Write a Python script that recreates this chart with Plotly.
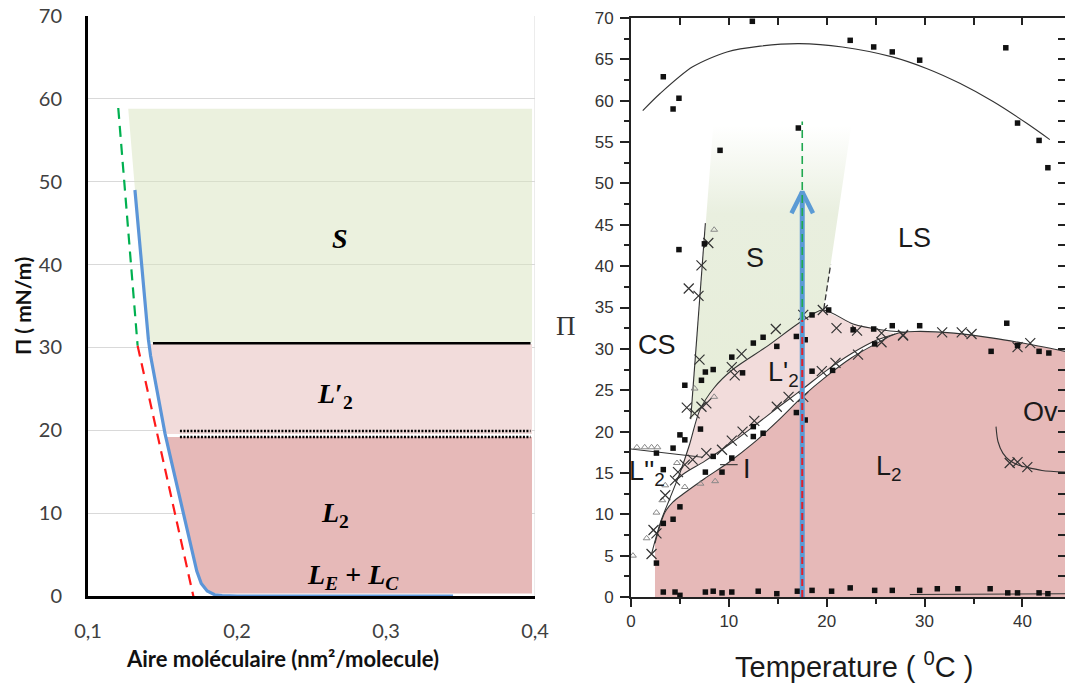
import numpy as np
import plotly.graph_objects as go

# ---------------- Left panel: isotherm ----------------
iso_area = [0.1315, 0.134, 0.1365, 0.1385, 0.1405, 0.142, 0.146, 0.150, 0.1517, 0.155, 0.160,
            0.1638, 0.168, 0.171, 0.173, 0.176, 0.180, 0.185, 0.19, 0.2, 0.25, 0.30, 0.345]
iso_pi = [49, 44, 38, 34, 31, 29, 25, 21, 19.6, 17, 13, 10, 7, 4.5, 3.0, 1.5, 0.6, 0.15, 0.05, 0, 0, 0, 0]

green_fit_area = [0.1203, 0.1333]
green_fit_pi = [58.9, 30.2]
red_fit_area = [0.1333, 0.1718]
red_fit_pi = [30.2, -0.9]

left_x_ticks = [0.1, 0.2, 0.3, 0.4]
left_x_ticktext = ["0,1", "0,2", "0,3", "0,4"]

# region limits (Π) and right edge of the shaded phases
zone_S = [30.6, 58.8]
zone_L2p = [19.55, 30.4]
zone_L2 = [0.3, 19.2]
zone_right = 0.398
zone_S_topleft = 0.127
line_S_pi = 30.5
line_S_x = [0.1436, 0.397]
dotted_pi = [19.9, 19.2]
dotted_x = [0.1617, 0.397]

left_labels = ["<b><i>S</i></b>", "<b><i>L</i>′<sub>2</sub></b>", "<b><i>L</i><sub>2</sub></b>",
               "<b><i>L</i><sub><i>E</i></sub> + <i>L</i><sub><i>C</i></sub></b>"]
left_label_x = [0.269, 0.266, 0.266, 0.278]
left_label_pi = [43.1, 24.2, 9.8, 2.3]

# ---------------- Right panel: phase diagram ----------------
sq_T = [3.3, 4.3, 4.9, 7.4, 12.4, 17.1, 9.1, 4.9, 7.5, 22.4, 24.8, 26.7, 29.5, 38.3, 39.5, 41.7, 42.6,
        38.4, 18.5, 20.2, 22.7, 24.8, 26.7, 29.5, 13.5, 16.9, 17.8, 14.9, 12.5, 11.4, 10.3, 8.4, 7.6,
        7.2, 5.5, 7.1, 5.0, 5.5, 4.3, 2.6, 3.3, 7.6, 8.4, 9.3, 10.3, 12.5, 13.5, 12.5, 5.0, 4.3, 3.3,
        2.6, 16.9, 17.8, 18.5, 20.6, 24.9, 36.8, 39.5, 41.7, 42.7]
sq_P = [62.9, 59.0, 60.3, 70.1, 69.6, 56.7, 54.0, 42.0, 42.7, 67.3, 66.5, 65.9, 64.9, 66.4, 57.3, 55.2, 51.9,
        33.1, 34.1, 34.7, 32.3, 32.4, 32.8, 32.8, 31.4, 31.5, 31.1, 30.3, 30.7, 27.1, 29.0, 27.5, 27.2,
        26.2, 25.6, 20.3, 19.6, 19.0, 18.0, 17.4, 15.4, 15.1, 17.0, 15.1, 16.8, 19.4, 19.8, 20.6, 10.9, 9.4, 8.9,
        4.1, 22.3, 21.4, 27.3, 27.4, 30.6, 29.7, 30.4, 29.7, 29.5]
base_T = [3.3, 4.5, 5.0, 7.6, 8.4, 9.3, 10.3, 13.0, 14.9, 17.0, 18.5, 20.5, 22.4, 24.9, 26.7, 29.5,
          31.3, 33.4, 36.7, 38.5, 39.5, 41.7, 42.6]
base_P = [0.6, 0.6, 0.2, 0.6, 0.7, 0.5, 0.6, 0.7, 0.4, 0.7, 0.8, 0.7, 1.1, 0.8, 0.8, 0.8,
          1.0, 1.0, 1.0, 0.5, 0.5, 0.5, 0.4]
x_T = [7.9, 7.2, 5.9, 6.9, 14.8, 17.6, 19.6, 21.0, 23.1, 25.6, 27.8, 31.8, 33.8, 34.8,
       7.0, 11.3, 10.3, 10.6, 5.7, 6.5, 7.2, 7.7, 19.5, 20.9, 23.2, 25.6, 27.8, 16.1, 14.9, 12.6,
       11.4, 10.3, 9.3, 7.7, 6.3, 5.5, 4.8, 4.5, 3.5, 2.3, 2.6, 2.1, 38.7, 39.5, 40.5, 39.5, 40.8, 17.6]
x_P = [42.8, 40.1, 37.3, 36.4, 32.4, 34.1, 34.7, 32.5, 32.2, 31.9, 31.7, 32.0, 32.0, 31.8,
       28.7, 29.4, 27.8, 26.8, 22.9, 22.2, 23.0, 23.4, 27.3, 28.3, 29.3, 30.8, 31.6, 24.2, 23.0, 21.3,
       20.0, 18.9, 17.8, 17.4, 16.6, 16.0, 15.1, 14.1, 12.3, 8.1, 7.7, 5.2, 16.2, 16.3, 15.7, 30.2, 30.7, 24.2]
tri_T = [0.6, 1.4, 2.1, 2.7, 0.2, 1.6, 2.6, 3.2, 3.5, 4.7, 5.5, 7.1, 8.6, 6.5, 8.5, 8.5]
tri_P = [18.1, 18.1, 18.1, 18.1, 5.0, 7.1, 10.2, 11.7, 13.5, 16.2, 13.3, 13.7, 14.0, 25.2, 24.2, 44.4]

dome_T = [1.2, 3.0, 6.3, 9.8, 13.2, 17.2, 21.6, 26.7, 30.2, 33.6, 37.0, 40.4, 42.8]
dome_P = [58.8, 60.9, 64.1, 65.9, 66.6, 66.9, 66.5, 65.3, 63.9, 62.1, 59.9, 57.3, 55.3]
upper_T = [2.1, 3.0, 4.0, 5.0, 6.0, 7.0, 8.5, 10.4, 13.9, 17.4, 19.6, 22.7, 25.5, 28.0]
upper_P = [5.2, 9.0, 12.0, 15.0, 18.5, 22.5, 25.3, 27.5, 30.3, 33.3, 34.7, 33.0, 32.3, 32.0]
l2top_T = [2.45, 3.0, 3.5, 4.3, 5.5, 7.5, 10, 12.5, 15, 17.5, 20, 22.5, 25, 27, 29, 33, 37, 40, 44.35]
l2top_P = [6.5, 8.8, 10.3, 11.5, 12.6, 14.3, 16.3, 18.6, 21.3, 24.2, 26.7, 28.9, 30.6, 31.8, 32.1, 31.9, 31.3, 30.7, 29.7]
ibnd_T = [4.5, 5.5, 7.5, 10, 12.5, 15, 17.5, 20, 22.5, 25, 27]
ibnd_P = [14.0, 15.0, 16.4, 18.4, 20.6, 22.9, 25.1, 27.4, 29.4, 31.0, 31.8]
s_edge_T = [6.1, 8.4, 22.5, 20.0]
s_edge_P = [21.5, 56.9, 56.9, 37.0]
cs_T = [6.1, 7.6]
cs_P = [21.5, 45.2]
sls_T = [19.7, 20.4]
sls_P = [34.8, 40.2]
l2pp_T = [0.0, 7.3]
l2pp_P = [17.9, 16.9]
ip_T = [9.1, 10.9]
ip_P = [16.0, 16.0]
ov_T = [37.3, 37.5, 38.0, 38.7, 39.5, 40.4, 42.0, 44.35]
ov_P = [20.6, 18.8, 17.4, 16.5, 16.0, 15.7, 15.3, 15.1]
basefit_T = [28.5, 44.35]
basefit_P = [0.3, 0.4]

arrow_T = 17.5
arrow_top = 49.0
red_top = 33.5
green_top = 57.5
chev_T = [16.4, 17.5, 18.6]
chev_P = [46.4, 49.0, 46.4]

right_labels = ["CS", "S", "LS", "L'<sub>2</sub>", "L''<sub>2</sub>", "I", "L<sub>2</sub>", "Ov"]
right_label_T = [2.7, 12.7, 29.0, 15.6, 1.6, 11.9, 26.4, 41.8]
right_label_P = [30.5, 41.0, 43.4, 27.0, 15.0, 15.5, 15.6, 22.4]

T_range = [0, 44.35]

LPINK = "#f2dcdb"
DPINK = "#e6b9b8"
BLUE = "#5b95d8"

fig = go.Figure()
L = dict(xaxis="x", yaxis="y", showlegend=False, hoverinfo="skip")
R = dict(xaxis="x2", yaxis="y2", showlegend=False, hoverinfo="skip")

# ---- left regions built from the isotherm
ia = np.array(iso_area)
ip = np.array(iso_pi)
steep = ip > 0.01
def area_at(p):
    return float(np.interp(p, ip[steep][::-1], ia[steep][::-1]))

def band(lo, hi):
    pts = [(a, p) for a, p in zip(iso_area, iso_pi) if lo < p < hi]
    xs = [area_at(hi)] + [a for a, _ in pts] + [area_at(lo), zone_right, zone_right]
    ys = [hi] + [p for _, p in pts] + [lo, lo, hi]
    return xs, ys

gx, gy = band(zone_S[0], iso_pi[0])
gx = [zone_S_topleft] + gx[:-1] + [zone_right]
gy = [zone_S[1]] + gy[:-1] + [zone_S[1]]
fig.add_trace(go.Scatter(x=gx, y=gy, fill="toself", fillcolor="rgba(215,227,189,0.5)",
                         line=dict(width=0), mode="lines", **L))
px_, py_ = band(*zone_L2p)
fig.add_trace(go.Scatter(x=px_, y=py_, fill="toself", fillcolor=LPINK, line=dict(width=0), mode="lines", **L))
px_, py_ = band(*zone_L2)
fig.add_trace(go.Scatter(x=px_, y=py_, fill="toself", fillcolor=DPINK, line=dict(width=0), mode="lines", **L))

# right frame line of left chart
fig.add_trace(go.Scatter(x=[0.4, 0.4], y=[0, 70], mode="lines", line=dict(color="#d9d9d9", width=1), **L))

fig.add_trace(go.Scatter(x=line_S_x, y=[line_S_pi] * 2, mode="lines", line=dict(color="black", width=2.5), **L))
for dp in dotted_pi:
    fig.add_trace(go.Scatter(x=dotted_x, y=[dp] * 2, mode="lines",
                             line=dict(color="black", width=2.5, dash="2px,1.5px"), **L))

fig.add_trace(go.Scatter(x=green_fit_area, y=green_fit_pi, mode="lines",
                         line=dict(color="#00b050", width=2.2, dash="11px,7px"), **L))
fig.add_trace(go.Scatter(x=red_fit_area, y=red_fit_pi, mode="lines",
                         line=dict(color="#ff1a1a", width=2.2, dash="11px,7px"), **L))
fig.add_trace(go.Scatter(x=red_fit_area[1:], y=red_fit_pi[1:], mode="markers", cliponaxis=False,
                         marker=dict(color="#ff1a1a", size=3), **L))
fig.add_trace(go.Scatter(x=iso_area, y=iso_pi, mode="lines", line=dict(color=BLUE, width=3.2), **L))

# ---- right regions
l2x = [l2top_T[0]] + l2top_T + [l2top_T[-1]]
l2y = [0] + l2top_P + [0]
fig.add_trace(go.Scatter(x=l2x, y=l2y, fill="toself", fillcolor=DPINK, line=dict(width=0), mode="lines", **R))
up_sel = [(t, p) for t, p in zip(upper_T, upper_P) if 5.0 <= t <= 27.5]
lpx = ibnd_T + [t for t, _ in up_sel][::-1]
lpy = ibnd_P + [p for _, p in up_sel][::-1]
fig.add_trace(go.Scatter(x=lpx, y=lpy, fill="toself", fillcolor=LPINK, line=dict(width=0), mode="lines", **R))
s_sel = [(t, p) for t, p in zip(upper_T, upper_P) if 7.0 <= t <= 19.6]
sx = s_edge_T + [t for t, _ in s_sel][::-1]
sy = s_edge_P + [p for _, p in s_sel][::-1]
fig.add_trace(go.Scatter(x=sx, y=sy, fill="toself", line=dict(width=0), mode="lines",
                         fillgradient=dict(type="vertical", start=21.5, stop=57,
                                           colorscale=[[0, "#e6edd8"], [0.7, "#e9efdf"], [1, "#ffffff"]]),
                         **R))

thin = dict(color="#333333", width=1.1, shape="spline", smoothing=0.8)
for tx, ty in [(dome_T, dome_P), (upper_T, upper_P), (l2top_T, l2top_P), (ibnd_T, ibnd_P),
               (cs_T, cs_P), (l2pp_T, l2pp_P), (ip_T, ip_P), (ov_T, ov_P), (basefit_T, basefit_P)]:
    fig.add_trace(go.Scatter(x=tx, y=ty, mode="lines", line=thin, **R))
fig.add_trace(go.Scatter(x=sls_T, y=sls_P, mode="lines", line=dict(color="#333333", width=1.3, dash="6px,3px"), **R))

fig.add_trace(go.Scatter(x=tri_T, y=tri_P, mode="markers", cliponaxis=False,
                         marker=dict(symbol="triangle-up-open", size=6, color="#888888", line=dict(width=1)), **R))
fig.add_trace(go.Scatter(x=x_T, y=x_P, mode="markers", cliponaxis=False,
                         marker=dict(symbol="x-thin-open", size=10, color="#333333", line=dict(width=1.2, color="#333333")), **R))
fig.add_trace(go.Scatter(x=sq_T + base_T, y=sq_P + base_P, mode="markers", cliponaxis=False,
                         marker=dict(symbol="square", size=5.5, color="#111111"), **R))

# arrow
fig.add_trace(go.Scatter(x=[arrow_T, arrow_T], y=[0, arrow_top], mode="lines", line=dict(color="#5b9bd5", width=5), **R))
fig.add_trace(go.Scatter(x=chev_T, y=chev_P, mode="lines", line=dict(color="#5b9bd5", width=4.5), **R))
fig.add_trace(go.Scatter(x=[arrow_T, arrow_T], y=[0, red_top], mode="lines",
                         line=dict(color="#e0202a", width=2, dash="7px,4px"), **R))
fig.add_trace(go.Scatter(x=[arrow_T, arrow_T], y=[red_top, green_top], mode="lines",
                         line=dict(color="#1fa84f", width=1.6, dash="8px,5px"), **R))
fig.add_trace(go.Scatter(x=[None], y=[None], xaxis="x3", yaxis="y3", showlegend=False, hoverinfo="skip"))

W, H = 1065, 683
annotations = []
for txt, ax, ay in zip(left_labels, left_label_x, left_label_pi):
    annotations.append(dict(x=ax, y=ay, xref="x", yref="y", text=txt, showarrow=False,
                            xanchor="center", yanchor="middle",
                            font=dict(family="Liberation Serif", size=28, color="black")))
for txt, ax, ay in zip(right_labels, right_label_T, right_label_P):
    annotations.append(dict(x=ax, y=ay, xref="x2", yref="y2", text=txt, showarrow=False,
                            xanchor="center", yanchor="middle",
                            font=dict(family="Liberation Sans, Arial", size=27, color="#1a1a1a")))
annotations += [
    dict(x=22 / W, y=1 - 306 / H, xref="paper", yref="paper", text="<b>Π ( mN/m)</b>", textangle=-90,
         xanchor="center", yanchor="middle",
         showarrow=False, font=dict(family="Lato", size=21, color="#111111")),
    dict(x=282 / W, y=1 - 658 / H, xref="paper", yref="paper", text="<b>Aire moléculaire (nm²/molecule)</b>",
         xanchor="center", yanchor="middle",
         showarrow=False, font=dict(family="Lato", size=22, color="#111111")),
    dict(x=566 / W, y=1 - 326 / H, xref="paper", yref="paper", text="Π",
         xanchor="center", yanchor="middle",
         showarrow=False, font=dict(family="Liberation Serif", size=27, color="#333333")),
    dict(x=854 / W, y=1 - 665 / H, xref="paper", yref="paper", text="Temperature ( <sup>0</sup>C )",
         xanchor="center", yanchor="middle",
         showarrow=False, font=dict(family="Liberation Sans, Arial", size=29, color="#1a1a1a")),
]

tickfont_l = dict(family="Lato", size=20, color="#404040")
tickfont_r = dict(family="Liberation Sans, Arial", size=17, color="#333333")
fig.update_layout(
    width=W, height=H, margin=dict(l=0, r=0, t=0, b=0, pad=0), autosize=False,
    paper_bgcolor="white", plot_bgcolor="white", showlegend=False,
    annotations=annotations,
    xaxis=dict(domain=[88 / W, 535 / W], range=[0.1, 0.4], anchor="y", tickvals=left_x_ticks,
               ticktext=left_x_ticktext, showline=True, linecolor="black", linewidth=3, ticks="",
               ticklabelstandoff=15, showgrid=False, zeroline=False, layer="below traces", tickfont=tickfont_l,
               automargin=False),
    yaxis=dict(domain=[1 - 596 / H, 1 - 16 / H], range=[0, 70], anchor="x", dtick=10, showgrid=True,
               gridcolor="#d9d9d9", gridwidth=1, showline=True, linecolor="black", linewidth=3, ticks="",
               ticklabelstandoff=19, zeroline=False, tickfont=tickfont_l, automargin=False),
    xaxis2=dict(domain=[631 / W, 1.0], range=T_range, anchor="y2", showline=True, linecolor="#222222",
                linewidth=2, ticks="outside", ticklen=8, tickwidth=1.5, tickcolor="#222222", dtick=10, tick0=0,
                minor=dict(dtick=5, ticklen=5, ticks="outside", tickcolor="#222222", tickwidth=1.5),
                showgrid=False, zeroline=False, tickfont=tickfont_r, automargin=False),
    yaxis2=dict(domain=[1 - 597 / H, 1 - 18 / H], range=[0, 70], anchor="x2", showline=True, linecolor="#222222",
                linewidth=2, ticks="outside", ticklen=9, tickwidth=1.5, tickcolor="#222222", dtick=5, tick0=0,
                minor=dict(dtick=2.5, ticklen=5, ticks="outside", tickcolor="#222222", tickwidth=1.5),
                ticklabelstandoff=3,
                showgrid=False, zeroline=False, tickfont=tickfont_r, automargin=False),
    xaxis3=dict(overlaying="x2", side="top", anchor="y3", range=T_range, showline=True, linecolor="#222222",
                linewidth=2, ticks="inside", ticklen=7, tickwidth=1.5, tickcolor="#222222", dtick=5, tick0=0,
                showticklabels=False, showgrid=False, zeroline=False, automargin=False),
    yaxis3=dict(overlaying="y2", side="right", anchor="x3", range=[0, 70], showline=True, linecolor="#222222",
                linewidth=2, ticks="inside", ticklen=7, tickwidth=1.5, tickcolor="#222222", dtick=2.5, tick0=0,
                showticklabels=False, showgrid=False, zeroline=False, automargin=False),
)

fig.write_html("out.html", config={"displayModeBar": False},
               post_script="document.body.style.margin='0';document.body.style.overflow='hidden';")
